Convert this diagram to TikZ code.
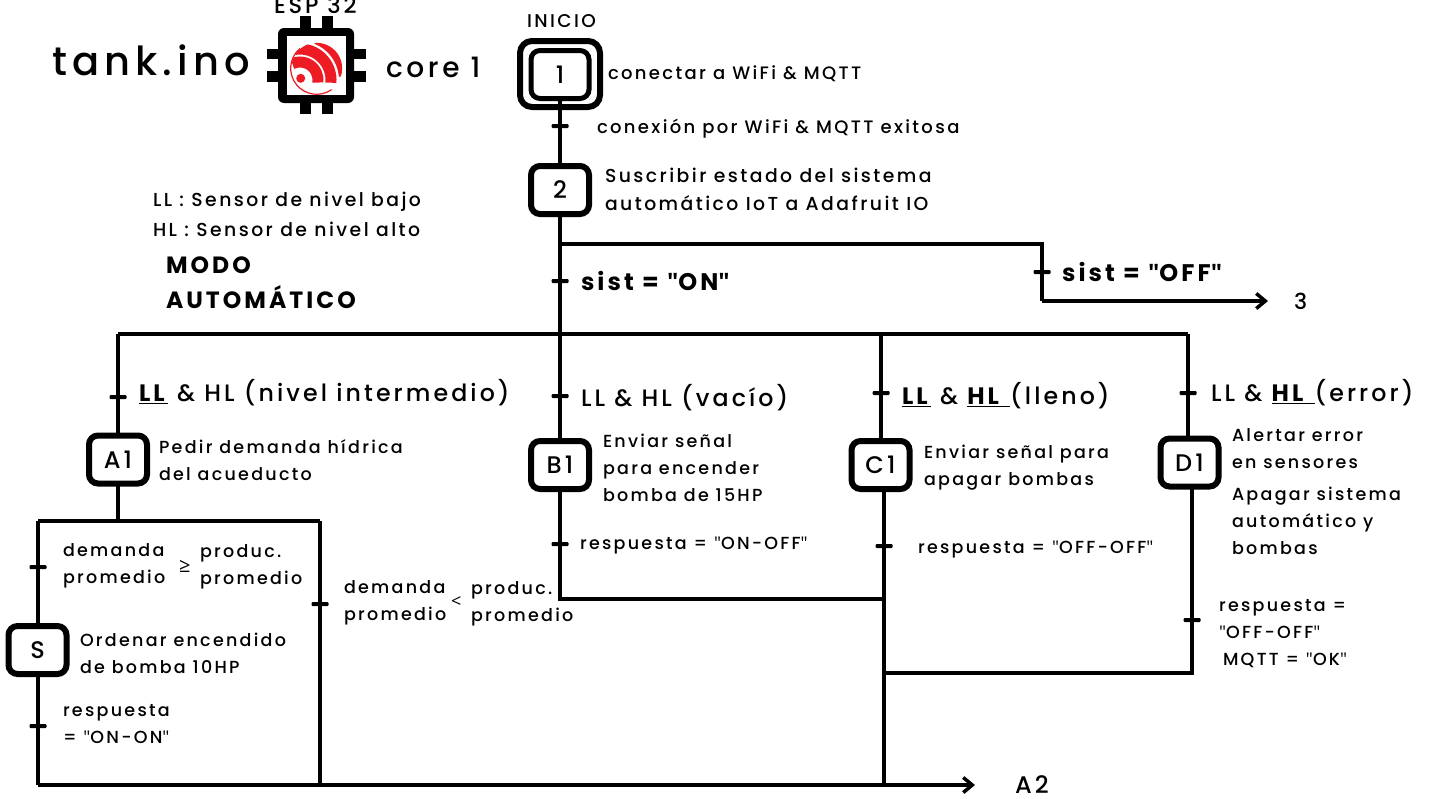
\documentclass[tikz,border=0pt]{standalone}
\usepackage{fontspec}
\setmainfont[LetterSpace=13,UprightFont={* Medium},BoldFont={* Bold}]{Poppins}
\newfontfamily\rectas{Open Sans}
\usepackage{tikz}
\usetikzlibrary{arrows.meta,positioning}
\definecolor{espred}{RGB}{237,28,36}
\newcommand{\ulb}[1]{\underline{\textbf{#1}}}
\newcommand{\qt}{{\rectas"}}
\tikzset{
  stepbox/.style={draw,line width=6pt,rounded corners=9pt,minimum width=58pt,minimum height=48pt,inner sep=0pt,outer sep=0pt,font=\fontsize{24}{26}\selectfont},
  bar/.style={line width=4pt},
  flecha/.style={line width=4pt,-{Straight Barb[length=9pt,width=15pt,line width=3.5pt]}},
  transmark/.style={fill=black,rounded corners=1pt,minimum width=17pt,minimum height=4pt,inner sep=0pt,outer sep=0pt},
  txt/.style={anchor=west,inner sep=0pt,outer sep=0pt,align=left,font=\fontsize{17.5}{27}\selectfont},
  txtb/.style={txt,font=\fontsize{18}{27}\selectfont},
  txtc/.style={txt,font=\fontsize{18.8}{28}\selectfont},
  cond/.style={anchor=west,inner sep=0pt,outer sep=0pt,font=\fontsize{23.7}{27}\selectfont},
  negrita/.style={anchor=west,inner sep=0pt,outer sep=0pt,font=\fontsize{24}{27}\selectfont\bfseries}
}
\begin{document}
\begin{tikzpicture}[x=1pt,y=-1pt]
  \useasboundingbox (0,0) rectangle (1429,798);
  % chip
  \fill (300,16) rectangle (311,114);
  \fill (322,16) rectangle (333,114);
  \fill (267,49) rectangle (366,59);
  \fill (267,71) rectangle (366,82);
  \fill[rounded corners=6pt] (278,28) rectangle (354,103);
  \fill[white] (287,36) rectangle (346,95);
  \begin{scope}
    \clip (316.7,68.3) circle (25.5pt);
    \draw[espred,line width=11pt] (300,80) ++(115:18pt) arc[start angle=115,end angle=-8,radius=18pt];
    \draw[espred,line width=11pt] (300,80) ++(100:31pt) arc[start angle=100,end angle=-5,radius=31pt];
    \draw[espred,line width=10pt] (300,80) ++(68:44pt) arc[start angle=68,end angle=5,radius=44pt];
  \end{scope}
  \fill[white] (300.7,78.3) circle (7pt);
  \fill[espred] (300.7,78.3) circle (4.5pt);
  \draw[espred,line width=1.2pt] (316.7,68.3) ++(130:26pt) arc[start angle=130,end angle=305,radius=26pt];
  % titulo
  \node[txt,font=\fontsize{40}{44}\selectfont] (titulo) at (52,60) {tank.ino};
  \node[txt,font=\fontsize{28}{30}\selectfont] (nucleo) at (386,67) {core 1};
  \node[txt,font=\fontsize{22.5}{24}\selectfont] (esp) at (274,5) {ESP 32};
  \node[txt,font=\fontsize{18.5}{24}\selectfont] (inicio) at (527,21) {INICIO};
  \node[txtc] (ll) at (153,202) {LL : Sensor de nivel bajo};
  \node[txtc] (hl) at (153,229) {HL : Sensor de nivel alto};
  \node[txt,font=\fontsize{23.5}{35}\selectfont\bfseries] (modo) at (166,283) {MODO\\AUTOMÁTICO};
  % etapas
  \node[stepbox,minimum width=80pt,minimum height=66pt,rounded corners=12pt] (st1o) at (560,74) {};
  \node[stepbox,line width=5pt] (st1) at (560,74.5) {1};
  \node[stepbox] (st2) at (560,190) {2};
  \node[stepbox] (a1) at (118,459.5) {A1};
  \node[stepbox] (b1) at (560,465) {B1};
  \node[stepbox] (c1) at (880.5,465) {C1};
  \node[stepbox] (d1) at (1189.5,462.5) {D1};
  \node[stepbox] (s) at (37.5,650) {S};
  % uniones
  \coordinate (j1) at (560,244);
  \coordinate (j2) at (1042,244);
  \coordinate (j3) at (1042,301);
  \node[txt,font=\fontsize{22}{24}\selectfont] (tres) at (1294,301) {3};
  \coordinate (bus0) at (118,334);
  \coordinate (bus1) at (560,334);
  \coordinate (bus2) at (881,334);
  \coordinate (bus3) at (1188,334);
  \coordinate (a2) at (118,521);
  \coordinate (a3) at (38,521);
  \coordinate (a4) at (320,521);
  \coordinate (f0) at (38,785);
  \coordinate (f1) at (320,785);
  \coordinate (f2) at (884,785);
  \coordinate (c2) at (884,492);
  \coordinate (c3) at (884,599);
  \coordinate (c4) at (884,673);
  \coordinate (b2) at (560,599);
  \coordinate (d2) at (1192,489);
  \coordinate (d3) at (1192,673);
  \node[txt,font=\fontsize{24}{26}\selectfont] (fin) at (1015,785) {A2};
  \draw[bar] (st1) -- (st2);
  \draw[bar] (st2) -- (bus1);
  \draw[bar] (j1) -- (j2) -- (j3);
  \draw[flecha] (j3) -- (1268,301);
  \draw[bar] (bus0) -- (bus3);
  \draw[bar] (bus0) -- (a1);
  \draw[bar] (bus1) -- (b1);
  \draw[bar] (bus2) -- (c1.north -| bus2);
  \draw[bar] (bus3) -- (d1.north -| bus3);
  \draw[bar] (a1) -- (a2);
  \draw[bar] (a3) -- (a4);
  \draw[bar] (a3) -- (s.north -| a3);
  \draw[bar] (s.south -| a3) -- (f0);
  \draw[bar] (a4) -- (f1);
  \draw[bar] (b1) -- (b2) -- (c3);
  \draw[bar] (c2) -- (f2);
  \draw[bar] (d2) -- (d3) -- (c4);
  \draw[flecha] (f0) -- (975,785);
  % transiciones
  \node[transmark] (t1) at (560,126) {};
  \node[transmark] (t2) at (560,281) {};
  \node[transmark] (t3) at (1042,272) {};
  \node[transmark] (t4) at (118,397) {};
  \node[transmark] (t5) at (560,396) {};
  \node[transmark] (t6) at (881,393) {};
  \node[transmark] (t7) at (1188,393) {};
  \node[transmark] (t8) at (38,567) {};
  \node[transmark] (t9) at (320,604) {};
  \node[transmark] (t10) at (38,726) {};
  \node[transmark] (t11) at (560,544) {};
  \node[transmark] (t12) at (884,546) {};
  \node[transmark] (t13) at (1192,620) {};
  % textos
  \node[txtb] (x1) at (608,74) {conectar a WiFi \& MQTT};
  \node[txtb] (x2) at (597,129) {conexión por WiFi \& MQTT exitosa};
  \node[txtc] (x3) at (605,189) {Suscribir estado del sistema\\automático IoT a Adafruit IO};
  \node[negrita] (x4) at (581,281) {sist = \qt ON\qt};
  \node[negrita] (x5) at (1062,272) {sist = \qt OFF\qt};
  \node[cond] (x6) at (139,393) {\ulb{LL} \& HL (nivel intermedio)};
  \node[cond] (x7) at (581,398) {LL \& HL (vacío)};
  \node[cond] (x8) at (902,396) {\ulb{LL} \& \ulb{HL\ }(lleno)};
  \node[cond] (x9) at (1211,393) {LL \& \ulb{HL\ }(error)};
  \node[txt] (x10) at (159,460) {Pedir demanda hídrica\\del acueducto};
  \node[txt] (x11) at (603,467.5) {Enviar señal\\para encender\\bomba de 15HP};
  \node[txt] (x12) at (924,468) {Enviar señal para\\apagar bombas};
  \node[txt] (x13) at (1232,449) {Alertar error\\en sensores};
  \node[txt] (x14) at (1232,520.5) {Apagar sistema\\automático y\\bombas};
  \node[txt] (x15) at (580,546) {respuesta = \qt ON-OFF\qt};
  \node[txt] (x16) at (918,550) {respuesta = \qt OFF-OFF\qt};
  \node[txt] (x17) at (1219,619.5) {respuesta =\\\qt OFF-OFF\qt};
  \node[txt] (x18) at (1223,660.5) {MQTT = \qt OK\qt};
  \node[txt] (x19) at (63,566) {demanda\\promedio};
  \node[txt,font=\fontsize{20}{22}\selectfont\rectas] (x20) at (179,566) {≥};
  \node[txt] (x21) at (200,567) {produc.\\promedio};
  \node[txt] (x22) at (344,603) {demanda\\promedio};
  \node[txt,font=\fontsize{18}{20}\selectfont\rectas] (x23) at (451,602) {<};
  \node[txt] (x24) at (471,604) {produc.\\promedio};
  \node[txt] (x25) at (80,653) {Ordenar encendido\\de bomba 10HP};
  \node[txt] (x26) at (63,724.5) {respuesta\\= \qt ON-ON\qt};
\end{tikzpicture}
\end{document}
